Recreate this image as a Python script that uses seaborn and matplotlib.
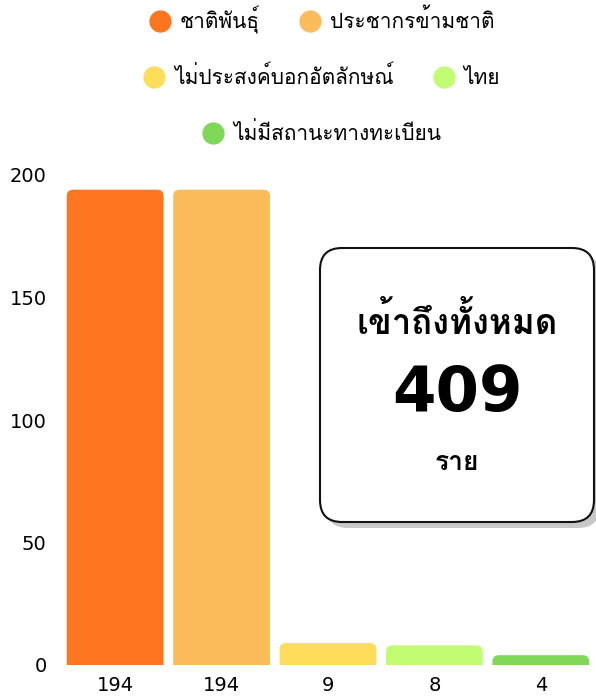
import matplotlib
matplotlib.use("Agg")
import matplotlib.pyplot as plt
from matplotlib import font_manager
from matplotlib.ft2font import FT2Font
from matplotlib.patches import FancyBboxPatch
from matplotlib.lines import Line2D
import seaborn as sns
import pandas as pd

# data
groups = ["ชาติพันธุ์", "ประชากรข้ามชาติ", "ไม่ประสงค์บอกอัตลักษณ์", "ไทย", "ไม่มีสถานะทางทะเบียน"]
counts = [194, 194, 9, 8, 4]
colors = ["#FE7520", "#FDBC5C", "#FEDD5A", "#C2FC72", "#7FD858"]
yticks = [0, 50, 100, 150, 200]
total_label = "เข้าถึงทั้งหมด"
total_value = 409
total_unit = "ราย"
legend_rows = [[0, 1], [2, 3], [4]]


def thai_families():
    found = []
    for f in font_manager.fontManager.ttflist:
        try:
            if 0x0E0A in FT2Font(f.fname).get_charmap() and f.name not in found:
                found.append(f.name)
        except Exception:
            pass
    return found


sns.set_style("white")
thai = thai_families()
# latin digits from DejaVu, thai glyphs from whatever font has them
plt.rcParams["font.family"] = ["DejaVu Sans"] + thai[:1]
plt.rcParams["text.color"] = "black"

df = pd.DataFrame({"group": groups, "count": counts})

fig = plt.figure(figsize=(5.96, 6.97), dpi=100)
ax = fig.add_axes([62 / 596, 32 / 697, 532 / 596, 490 / 697])
sns.barplot(data=df, x="group", y="count", hue="group", palette=colors, saturation=1,
            dodge=False, width=0.91, legend=False, ax=ax)

# swap plain bars for ones with rounded tops
rx, ry = 0.06, 2.6
for p in list(ax.patches):
    x0, w, h = p.get_x(), p.get_width(), p.get_height()
    p.set_visible(False)
    ax.add_patch(FancyBboxPatch((x0, -ry), w, h + ry,
                                boxstyle=f"round,pad=0,rounding_size={rx}",
                                mutation_aspect=ry / rx,
                                fc=p.get_facecolor(), ec="none"))

ax.set_ylim(0, 200)
ax.set_xlim(-0.5, len(groups) - 0.5)
ax.set_yticks(yticks)
ax.set_xticks(range(len(groups)), [str(c) for c in counts])
ax.tick_params(axis="both", length=0, labelsize=14, colors="black")
ax.tick_params(axis="y", pad=11)
ax.tick_params(axis="x", pad=8)
ax.set_xlabel("")
ax.set_ylabel("")
sns.despine(ax=ax, left=True, bottom=True)

# legend, three centred rows
row_y = [20, 77, 133]
for row, y in zip(legend_rows, row_y):
    handles = [Line2D([], [], marker="o", ls="", markersize=15, color=colors[i]) for i in row]
    fig.legend(handles, [groups[i] for i in row], loc="center",
               bbox_to_anchor=(0.54, 1 - y / 697), ncol=len(row), frameon=False,
               fontsize=15, handlelength=1.0, handletextpad=0.45, columnspacing=1.9,
               borderaxespad=0)

# summary card
box_kw = dict(boxstyle="round,pad=0,rounding_size=0.22", transform=fig.dpi_scale_trans)
fig.add_artist(FancyBboxPatch((3.26, 1.69), 2.74, 2.74, fc="#c8c8c8", ec="none", zorder=4, **box_kw))
fig.add_artist(FancyBboxPatch((3.20, 1.75), 2.74, 2.74, fc="white", ec="#111111", lw=1.5, zorder=5, **box_kw))
cx = 457 / 596
fig.text(cx, 1 - 322 / 697, total_label, ha="center", va="center", fontsize=25, fontweight="bold", zorder=6)
fig.text(cx, 1 - 394 / 697, str(total_value), ha="center", va="center", fontsize=45, fontweight="heavy", zorder=6)
fig.text(cx, 1 - 463 / 697, total_unit, ha="center", va="center", fontsize=19, fontweight="bold", zorder=6)

fig.savefig("out.png", dpi=100)
